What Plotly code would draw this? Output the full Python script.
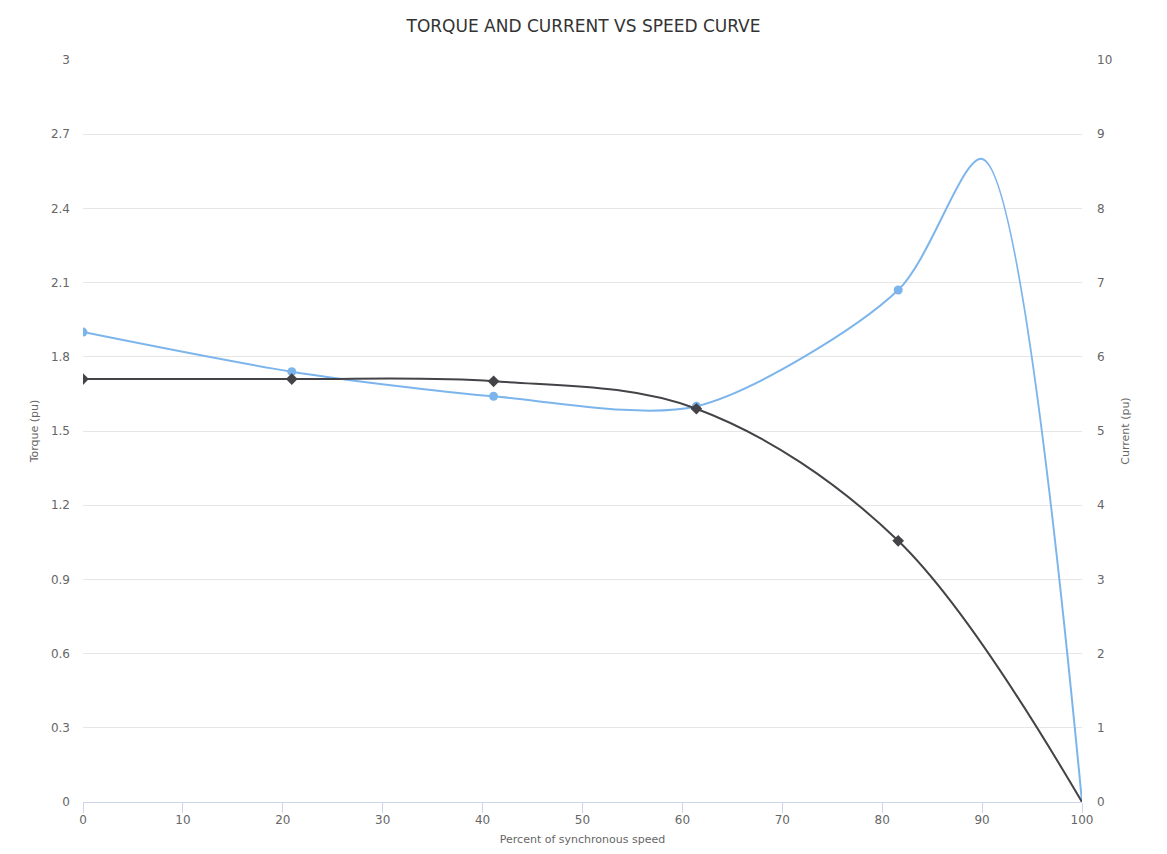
import plotly.graph_objects as go

speed_torque = [0, 20.9, 41.1, 61.4, 81.6, 90, 100]
torque = [1.9, 1.74, 1.64, 1.6, 2.07, 2.6, 0]
speed_current = [0, 20.9, 41.1, 61.4, 81.6, 100]
current = [5.7, 5.7, 5.67, 5.3, 3.52, 0]

torque_ticks = [0, 0.3, 0.6, 0.9, 1.2, 1.5, 1.8, 2.1, 2.4, 2.7, 3]
torque_labels = ["0", "0.3", "0.6", "0.9", "1.2", "1.5", "1.8", "2.1", "2.4", "2.7", "3"]
current_ticks = [0, 1, 2, 3, 4, 5, 6, 7, 8, 9, 10]
speed_ticks = [0, 10, 20, 30, 40, 50, 60, 70, 80, 90, 100]

FONT = "DejaVu Sans"
H = 838

fig = go.Figure()
fig.add_trace(go.Scatter(
    x=speed_torque, y=torque, name="Torque", mode="lines+markers",
    line=dict(color="#7cb5ec", width=2, shape="spline", smoothing=0.8),
    marker=dict(symbol="circle", color="#7cb5ec", opacity=1,
                size=[9, 9, 9, 9, 9, 0, 0], line=dict(width=0)),
    yaxis="y", showlegend=False,
))
fig.add_trace(go.Scatter(
    x=speed_current, y=current, name="Current", mode="lines+markers",
    line=dict(color="#434348", width=2, shape="spline", smoothing=1.0),
    marker=dict(symbol="diamond", color="#434348", opacity=1,
                size=[9, 9, 9, 9, 9, 0], line=dict(width=0)),
    yaxis="y2", showlegend=False,
))

fig.update_layout(
    width=1151, height=H,
    margin=dict(l=75, r=77, t=52, b=44),
    paper_bgcolor="white", plot_bgcolor="white",
    font=dict(family=FONT, color="#666666", size=11),
    title=dict(text="TORQUE AND CURRENT VS SPEED CURVE", x=0.5, xanchor="center",
               y=1 - 12.5 / H, yanchor="top",
               font=dict(family=FONT, size=17, color="#333333")),
    xaxis=dict(range=[0, 100], tickvals=speed_ticks, showgrid=False, zeroline=False,
               showline=True, linecolor="#ccd6eb", linewidth=1, automargin=False,
               ticks="outside", ticklen=10, tickcolor="#ccd6eb",
               ticklabelstandoff=-3,
               tickfont=dict(size=12, color="#666666"),
               title=dict(text="Percent of synchronous speed", standoff=14,
                          font=dict(size=11, color="#666666"))),
    yaxis=dict(range=[0, 3], tickvals=torque_ticks, ticktext=torque_labels,
               showgrid=True, gridcolor="#e6e6e6", zeroline=False, showline=False,
               ticks="", ticklabelstandoff=12, automargin=False,
               tickfont=dict(size=12, color="#666666"),
               title=dict(text="Torque (pu)", standoff=10,
                          font=dict(size=11, color="#666666"))),
    yaxis2=dict(range=[0, 10], tickvals=current_ticks, overlaying="y", side="right",
                showgrid=False, zeroline=False, showline=False, ticks="",
                ticklabelstandoff=14, automargin=False,
                tickfont=dict(size=12, color="#666666"),
                title=dict(text="Current (pu)", standoff=10,
                           font=dict(size=11, color="#666666"))),
)

fig.write_html("out.html")
